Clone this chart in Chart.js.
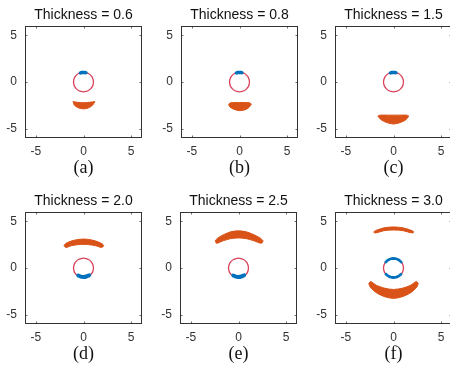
<!DOCTYPE html>
<html><head><meta charset="utf-8">
<script src="https://cdn.jsdelivr.net/npm/chart.js@4.4.1/dist/chart.umd.min.js"></script>
<style>
html,body{margin:0;padding:0;background:#fff;}
#wrap{position:relative;width:450px;height:366px;overflow:hidden;background:#fff;}
canvas{position:absolute;}
</style></head><body><div id="wrap"></div>
<script>
// ---- data ----
const thicknessLabels = ['0.6','0.8','1.5','2.0','2.5','3.0'];
const captions = ['(a)','(b)','(c)','(d)','(e)','(f)'];
const tickValues = [-5, 0, 5];

// red reference circle (radius about 1.05)
const circleX = [1.05,1.01,0.91,0.74,0.53,0.27,0,-0.27,-0.53,-0.74,-0.91,-1.01,-1.05,-1.01,-0.91,-0.74,-0.53,-0.27,0,0.27,0.53,0.74,0.91,1.01,1.05];
const circleY = [0,0.27,0.53,0.74,0.91,1.01,1.05,1.01,0.91,0.74,0.53,0.27,0,-0.27,-0.53,-0.74,-0.91,-1.01,-1.05,-1.01,-0.91,-0.74,-0.53,-0.27,0];

// blue marks on the circle
const blueTopSmall = [[-0.32,0.98],[-0.15,1.02],[0,1.03],[0.15,1.02],[0.25,1.0]];
const blueBottom   = [[-0.55,-0.8],[-0.3,-0.92],[0,-0.96],[0.3,-0.91],[0.6,-0.78]];
const blueTopF     = [[0.8,0.64],[0.66,0.78],[0.51,0.88],[0.26,0.99],[0,1.02],[-0.26,0.99],[-0.51,0.88],[-0.66,0.78],[-0.8,0.64]];
const blueBottomF  = [[-0.78,-0.66],[-0.66,-0.78],[-0.51,-0.88],[-0.26,-0.99],[0,-1.02],[0.26,-0.99],[0.51,-0.88],[0.66,-0.78],[0.78,-0.66]];

// orange regions: upper and lower outline
const blobAUpper = [[-1.1,-2.1],[-0.6,-2.18],[0,-2.22],[0.6,-2.18],[1.2,-2.1]];
const blobALower = [[-1.1,-2.1],[-0.95,-2.5],[-0.5,-2.78],[0,-2.88],[0.5,-2.78],[0.95,-2.5],[1.2,-2.1]];
const blobBUpper = [[-1.15,-2.4],[-1.0,-2.25],[-0.5,-2.2],[0,-2.2],[0.5,-2.2],[1.0,-2.22],[1.25,-2.35]];
const blobBLower = [[-1.15,-2.4],[-1.0,-2.68],[-0.6,-2.92],[0,-3.07],[0.6,-2.97],[1.0,-2.72],[1.25,-2.35]];
const blobCUpper = [[-1.65,-3.65],[-1.4,-3.55],[-0.7,-3.55],[0,-3.55],[0.7,-3.55],[1.4,-3.55],[1.6,-3.65]];
const blobCLower = [[-1.65,-3.65],[-1.3,-4.05],[-0.7,-4.35],[0,-4.5],[0.7,-4.35],[1.3,-4.05],[1.6,-3.65]];
const blobDUpper = [[-2.05,2.38],[-1.9,2.6],[-1.3,2.88],[-0.6,3.05],[0,3.1],[0.6,3.05],[1.3,2.88],[1.95,2.6],[2.15,2.38]];
const blobDLower = [[-2.05,2.38],[-1.85,2.2],[-1.3,2.38],[-0.6,2.5],[0,2.53],[0.6,2.5],[1.3,2.38],[1.9,2.2],[2.15,2.38]];
const blobEUpper = [[-2.45,2.9],[-2.2,3.2],[-1.5,3.6],[-0.8,3.88],[0,3.98],[0.8,3.88],[1.5,3.62],[2.3,3.2],[2.6,2.9]];
const blobELower = [[-2.45,2.9],[-2.3,2.65],[-1.6,2.92],[-0.8,3.15],[0,3.22],[0.8,3.15],[1.6,2.92],[2.4,2.65],[2.6,2.9]];
const blobF1Upper = [[-2.1,3.85],[-1.9,4.0],[-1.0,4.3],[0,4.4],[1.0,4.3],[1.95,4.0],[2.15,3.85]];
const blobF1Lower = [[-2.1,3.85],[-1.9,3.75],[-1.0,4.0],[0,4.07],[1.0,4.0],[1.95,3.75],[2.15,3.85]];
const blobF2Upper = [[-2.6,-1.65],[-2.4,-1.45],[-1.8,-1.85],[-1.0,-2.15],[0,-2.3],[1.0,-2.15],[1.8,-1.85],[2.4,-1.45],[2.6,-1.65]];
const blobF2Lower = [[-2.6,-1.65],[-2.45,-2.05],[-1.8,-2.65],[-1.0,-3.05],[0,-3.25],[1.0,-3.05],[1.8,-2.65],[2.45,-2.05],[2.6,-1.65]];

// ---- layout / style ----
const panelLeft = [0, 156, 310, 0, 155, 310];
const panelTop  = [1, 1, 1, 187, 187, 187];
const ORANGE = '#D95319', BLUE = '#0072BD', RED = '#D8435A';
const SANS = "'Liberation Sans', Arial, sans-serif";
const SERIF = "'Liberation Serif', 'Times New Roman', serif";

function toPts(xs, ys){ return xs.map((x,i)=>({x:x, y:ys[i]})); }
function pairPts(arr){ return arr.map(p=>({x:p[0], y:p[1]})); }
function blueDs(arr, w){ return {data:pairPts(arr), showLine:true, borderColor:BLUE, borderWidth:w, pointRadius:0, fill:false, tension:0.3, borderCapStyle:'round'}; }
function circleDs(){ return {data:toPts(circleX, circleY), showLine:true, borderColor:RED, borderWidth:1.3, pointRadius:0, fill:false, tension:0.3}; }
function blobDs(upper, lower){ return [
  {data:pairPts(upper), showLine:true, borderColor:ORANGE, borderWidth:1, pointRadius:0, fill:false, tension:0.3},
  {data:pairPts(lower), showLine:true, borderColor:ORANGE, borderWidth:1, pointRadius:0, fill:'-1', backgroundColor:ORANGE, tension:0.3}
]; }

const panelDatasets = [
  [blueDs(blueTopSmall,3.5), circleDs(), ...blobDs(blobAUpper, blobALower)],
  [blueDs(blueTopSmall,3.5), circleDs(), ...blobDs(blobBUpper, blobBLower)],
  [blueDs(blueTopSmall,3.5), circleDs(), ...blobDs(blobCUpper, blobCLower)],
  [blueDs(blueBottom,4), circleDs(), ...blobDs(blobDUpper, blobDLower)],
  [blueDs(blueBottom,4), circleDs(), ...blobDs(blobEUpper, blobELower)],
  [blueDs(blueTopF,2.8), blueDs(blueBottomF,2.8), circleDs(), ...blobDs(blobF1Upper, blobF1Lower), ...blobDs(blobF2Upper, blobF2Lower)]
];

const boxPlugin = {
  id:'box',
  afterDraw(chart){
    const {ctx, chartArea:a, scales} = chart;
    const L = Math.round(a.left)+0.5, R = Math.round(a.right)-0.5, T = Math.round(a.top)+0.5, B = Math.round(a.bottom)-0.5;
    ctx.save();
    ctx.strokeStyle = '#6a6a6a'; ctx.lineWidth = 1;
    ctx.beginPath();
    tickValues.forEach(v=>{
      const px = Math.round(scales.x.getPixelForValue(v))+0.5;
      ctx.moveTo(px, B); ctx.lineTo(px, B-2);
      ctx.moveTo(px, T); ctx.lineTo(px, T+2);
      const py = Math.round(scales.y.getPixelForValue(v))+0.5;
      ctx.moveTo(L, py); ctx.lineTo(L+2, py);
      ctx.moveTo(R, py); ctx.lineTo(R-2, py);
    });
    ctx.stroke();
    ctx.strokeStyle = '#333'; ctx.lineWidth = 1;
    ctx.strokeRect(L, T, R-L, B-T);
    ctx.restore();
  }
};

const wrap = document.getElementById('wrap');
for (let i = 0; i < 6; i++) {
  const c = document.createElement('canvas');
  c.width = 175; c.height = 183;
  c.style.left = panelLeft[i]+'px'; c.style.top = panelTop[i]+'px';
  c.style.width = '175px'; c.style.height = '183px';
  wrap.appendChild(c);
  new Chart(c, {
    type:'scatter',
    data:{datasets:panelDatasets[i]},
    options:{
      responsive:false, animation:false, devicePixelRatio:1,
      layout:{padding:{left:0, right:8, top:0, bottom:0}},
      plugins:{
        legend:{display:false}, tooltip:{enabled:false},
        title:{display:true, text:'Thickness = '+thicknessLabels[i], color:'#111',
               font:{family:SANS, size:14, weight:'normal', lineHeight:1.2}, padding:{top:6, bottom:2.2}}
      },
      scales:{
        x:{type:'linear', min:-6.15, max:6.15,
           afterBuildTicks:s=>{ s.ticks = tickValues.map(v=>({value:v})); },
           afterFit:s=>{ s.height = 46; },
           grid:{display:false, drawTicks:false}, border:{display:false},
           ticks:{padding:6, color:'#333', font:{family:SANS, size:12}, maxRotation:0, autoSkip:false},
           title:{display:true, text:captions[i], color:'#111', font:{family:SERIF, size:18, lineHeight:1.2}, padding:{top:0, bottom:5}}},
        y:{type:'linear', position:'left', min:-6, max:6,
           afterBuildTicks:s=>{ s.ticks = tickValues.map(v=>({value:v})); },
           afterFit:s=>{ s.width = 25; },
           grid:{display:false, drawTicks:false}, border:{display:false},
           ticks:{padding:8, color:'#333', font:{family:SANS, size:12}, autoSkip:false}},
        yRight:{type:'linear', position:'right', min:-6, max:6,
           afterFit:s=>{ s.width = 25; },
           grid:{display:false, drawTicks:false}, border:{display:false},
           ticks:{display:false}}
      }
    },
    plugins:[boxPlugin]
  });
}
</script></body></html>
